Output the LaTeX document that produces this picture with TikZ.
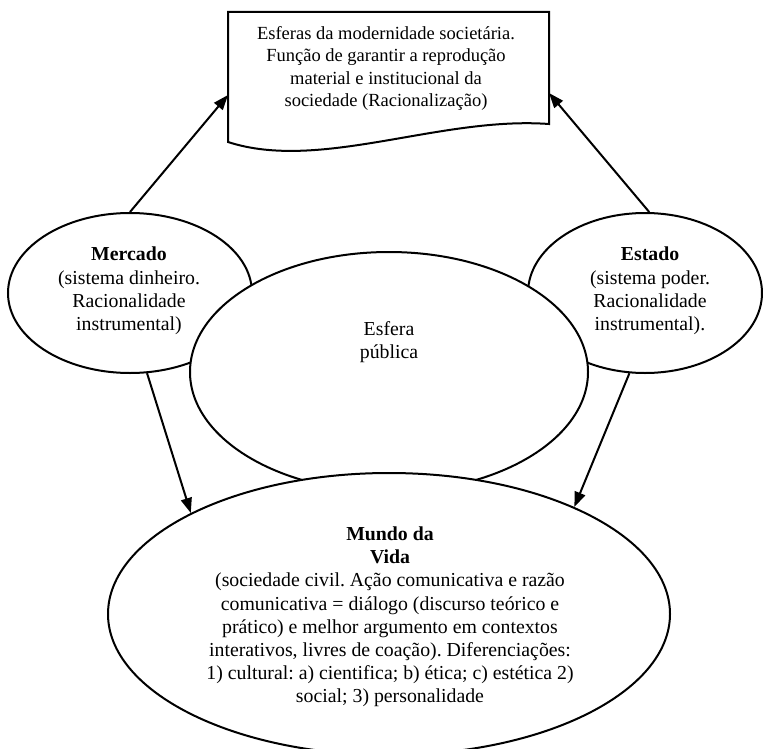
\documentclass[tikz,border=0pt]{standalone}
\usepackage{fontspec}
\setmainfont{Liberation Serif}
\usetikzlibrary{arrows.meta,shapes.geometric}
\frenchspacing
\begin{document}
\begin{tikzpicture}[x=1pt,y=-1pt,
  shp/.style={draw=black, line width=2pt, fill=white},
  ell/.style={shp, ellipse, inner sep=0pt},
  txt/.style={align=center, font=\fontsize{19.8}{23.2}\selectfont, inner sep=0pt},
  doctxt/.style={align=center, font=\fontsize{18.5}{22.6}\selectfont, inner sep=0pt},
  arr/.style={line width=2pt, -{Triangle[length=15pt,width=11pt]}},
]
\clip (0,0) rectangle (763,749);
% document shape
\draw[shp] (228,142) -- (228,12) -- (549,12) -- (549,124) .. controls (440,116) and (320,172) .. (228,142) -- cycle;
\node[doctxt] (doctext) at (386,68.5) {Esferas da modernidade societária.\\Função de garantir a reprodução\\material e institucional da\\sociedade (Racionalização)};
\coordinate (docL) at (228,95);
\coordinate (docR) at (549,93);
% ellipses
\node[ell, minimum width=244, minimum height=160] (mercado) at (130,293) {};
\node[ell, minimum width=234, minimum height=160] (estado) at (645,293) {};
\node[ell, minimum width=398, minimum height=240] (esfera) at (389,372) {};
\node[ell, minimum width=562, minimum height=282] (mundo) at (389,614) {};
% texts
\node[txt] (mercadotext) at (129,291) {\textbf{Mercado}\\(sistema dinheiro.\\Racionalidade\\instrumental)};
\node[txt] (estadotext) at (650,291) {\textbf{Estado}\\(sistema poder.\\Racionalidade\\instrumental).};
\node[txt] (esferatext) at (389,342) {Esfera\\pública};
\node[txt] (mundotext) at (390,617) {\textbf{Mundo da}\\\textbf{Vida}\\(sociedade civil. Ação comunicativa e razão\\comunicativa = diálogo (discurso teórico e\\prático) e melhor argumento em contextos\\interativos, livres de coação). Diferenciações:\\1) cultural: a) cientifica; b) ética; c) estética 2)\\social; 3) personalidade};
% arrows
\draw[arr] (mercado.north) -- (docL);
\draw[arr] (estado.87) -- (docR);
\draw[arr] (mercado.-78) -- (mundo.153);
\draw[arr] (estado.-101) -- (mundo.30);
\end{tikzpicture}
\end{document}
